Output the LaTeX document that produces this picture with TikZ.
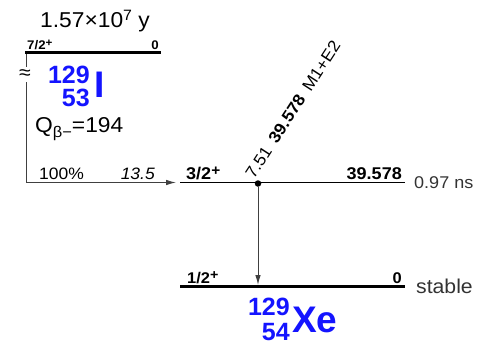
\documentclass[tikz,border=0pt]{standalone}
\usepackage{fontspec}
\setmainfont{Liberation Sans}[FakeStretch=1.06]
\newfontfamily\nucfont{Liberation Sans}
\usetikzlibrary{arrows.meta}
\definecolor{nucblue}{HTML}{1414FF}
\definecolor{dkgray}{HTML}{404040}
\definecolor{txgray}{HTML}{333333}
\newcommand{\fsz}[1]{\fontsize{#1}{#1}\selectfont}
\newcommand{\parity}[2]{\raisebox{#2}{\fsz{#1}+}}

\begin{document}
\begin{tikzpicture}[>={Latex[length=10pt,width=5.5pt]},x=1pt,y=-1pt,
  txt/.style={inner sep=0pt},
  lvlthick/.style={line width=3.5pt},
  lvlthin/.style={line width=1.3pt},
  feed/.style={dkgray,line width=1pt},
  gam/.style={dkgray,line width=1pt},
  spin/.style={txt,anchor=base west,font=\bfseries},
  nrg/.style={txt,anchor=base east,font=\bfseries},
  nuc/.style={txt,nucblue,font=\nucfont\bfseries}]

  \useasboundingbox (0,0) rectangle (489,357);

  % --- level ends ---
  \coordinate (parL) at (25,52.5);
  \coordinate (parR) at (161,52.5);
  \coordinate (excL) at (180,182.5);
  \coordinate (excR) at (405,182.5);
  \coordinate (gndL) at (180,286.5);
  \coordinate (gndR) at (405,286.5);

  % --- levels ---
  \draw[lvlthick] (parL) -- (parR);
  \draw[lvlthin]  (excL) -- (excR);
  \draw[lvlthick] (gndL) -- (gndR);

  % --- parent 129I ---
  \node[txt,anchor=base] (thalf) at (95,27)
        {\fsz{21.5}1.57×10\raisebox{7pt}{\fsz{15}7} y};
  \node[spin] (jpar) at (27,49) {\fsz{12.5}7/2\parity{11}{3pt}};
  \node[nrg]  (epar) at (159,49) {\fsz{12.5}0};
  \node[nuc,anchor=base west] (iel) at (94.5,97) {\fsz{37}I};
  \node[nuc,anchor=base east] (ia)  at (90,83)   {\fsz{25}129};
  \node[nuc,anchor=base east] (iz)  at (90,106)  {\fsz{25}53};
  \node[txt,anchor=base west] (qval) at (35,132)
        {\fsz{21.5}Q\raisebox{-5pt}{\fsz{15.5}β−}=194};

  % --- beta feeding ---
  \coordinate (feedT) at (26,54);
  \coordinate (feedC) at (26,182.5);
  \coordinate (feedE) at (176,182.5);
  \draw[feed,->] (feedT) -- (feedC) -- (feedE);
  \node[txt,fill=white,inner ysep=2.5pt] (brk) at (25,74.5) {\fsz{20}≈};
  \node[txt,anchor=base west] (ibeta) at (39,179) {\fsz{16.5}100\%};
  \node[txt,anchor=base east] (logft) at (155,179) {\fsz{16.5}\itshape 13.5};

  % --- excited level ---
  \node[spin] (jexc) at (186,179) {\fsz{17}3/2\parity{14.5}{4pt}};
  \node[nrg]  (eexc) at (402,179) {\fsz{17}39.578};
  \node[txt,anchor=base west,txgray] (texc) at (414,188) {\fsz{17}0.97 ns};

  % --- gamma ray ---
  \node[circle,fill,inner sep=0pt,minimum size=6.5pt] (dot) at (258,183.5) {};
  \coordinate (gtop) at (258,285);
  \draw[gam,->] (dot) -- (gtop);
  \node[txt,anchor=base west,rotate=57] (glbl) at (254,180)
        {\fsz{16.5}7.51\hspace{0.5em}\textbf{39.578}\hspace{0.5em}M1+E2};

  % --- ground state 129Xe ---
  \node[spin] (jgnd) at (187,283) {\fsz{15.5}1/2\parity{13.5}{4pt}};
  \node[nrg]  (egnd) at (402,283) {\fsz{15.5}0};
  \node[txt,anchor=base west,txgray] (tgnd) at (416,293) {\fsz{20}stable};
  \node[nuc,anchor=base west] (xel) at (292,332) {\fsz{37}Xe};
  \node[nuc,anchor=base east] (xa)  at (290,315) {\fsz{25}129};
  \node[nuc,anchor=base east] (xz)  at (290,340) {\fsz{25}54};

\end{tikzpicture}
\end{document}
